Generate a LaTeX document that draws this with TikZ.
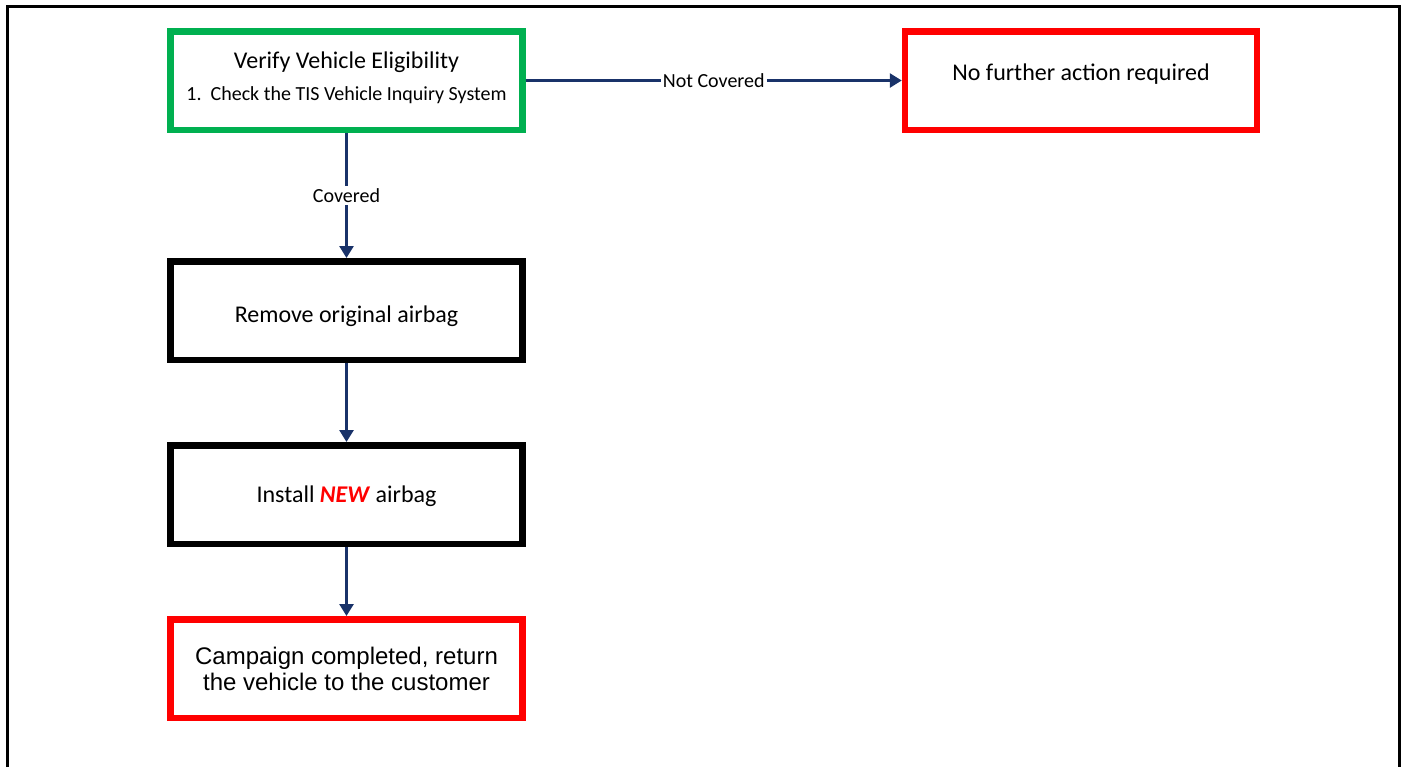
\documentclass[tikz,border=0pt]{standalone}
\usepackage{fontspec}
\setmainfont{Carlito}
\newfontfamily\arialfont{Liberation Sans}
\usepackage{tikz}
\usetikzlibrary{arrows.meta}
\usepackage{color}
\definecolor{boxgreen}{RGB}{0,176,80}
\definecolor{boxred}{RGB}{255,0,0}
\definecolor{arrownavy}{RGB}{25,50,105}

\begin{document}
\begin{tikzpicture}[x=0.5pt,y=-0.5pt]
\tikzstyle{every node}+=[inner sep=0pt]
\tikzstyle{stepbox}=[draw, line width=3.25pt, minimum width=176pt, minimum height=49.25pt, align=center, font=\fontsize{12}{14}\selectfont]
\tikzstyle{okbox}=[stepbox, draw=boxgreen]
\tikzstyle{endbox}=[stepbox, draw=boxred]
\tikzstyle{flow}=[draw=arrownavy, fill=arrownavy, line width=1.35pt, -{Triangle[width=7pt,length=6pt]}]
\tikzstyle{flowlabel}=[fill=white, inner sep=1pt, text=black, font=\fontsize{10}{12}\selectfont]
\useasboundingbox (0,0) rectangle (1406,767);
\draw [black, line width=1.35pt] (7.8,767) -- (7.8,6.3) -- (1399.7,6.3) -- (1399.7,767);
\node [okbox, label={[name=verifytext, yshift=1.25pt, align=center]center:{\fontsize{12}{14}\selectfont Verify Vehicle Eligibility}\\[4pt]{\fontsize{10}{12}\selectfont 1.\ \ Check the TIS Vehicle Inquiry System}}] (verify) at (346.5,80.5) {};
\node [endbox, label={[name=nofurthertext, yshift=3.25pt, font=\fontsize{12}{14}\selectfont]center:No further action required}] (nofurther) at (1081,80.5) {};
\node [stepbox, text height=14pt, text depth=2.5pt] (remove) at (346.5,310.5) {Remove original airbag};
\node [stepbox, text height=10.5pt, text depth=2.5pt] (install) at (346.5,494.5) {Install \textcolor{boxred}{\textbf{\textit{NEW}}} airbag};
\node [endbox, font=\arialfont\fontsize{12}{13}\selectfont] (campaign) at (346.5,668.5) {Campaign completed, return\\the vehicle to the customer};
\draw [flow] (verify) -- node [flowlabel] {Not Covered} (nofurther);
\draw [flow] (verify) -- node [flowlabel] {Covered} (remove);
\draw [flow] (remove) -- (install);
\draw [flow] (install) -- (campaign);
\end{tikzpicture}
\end{document}
